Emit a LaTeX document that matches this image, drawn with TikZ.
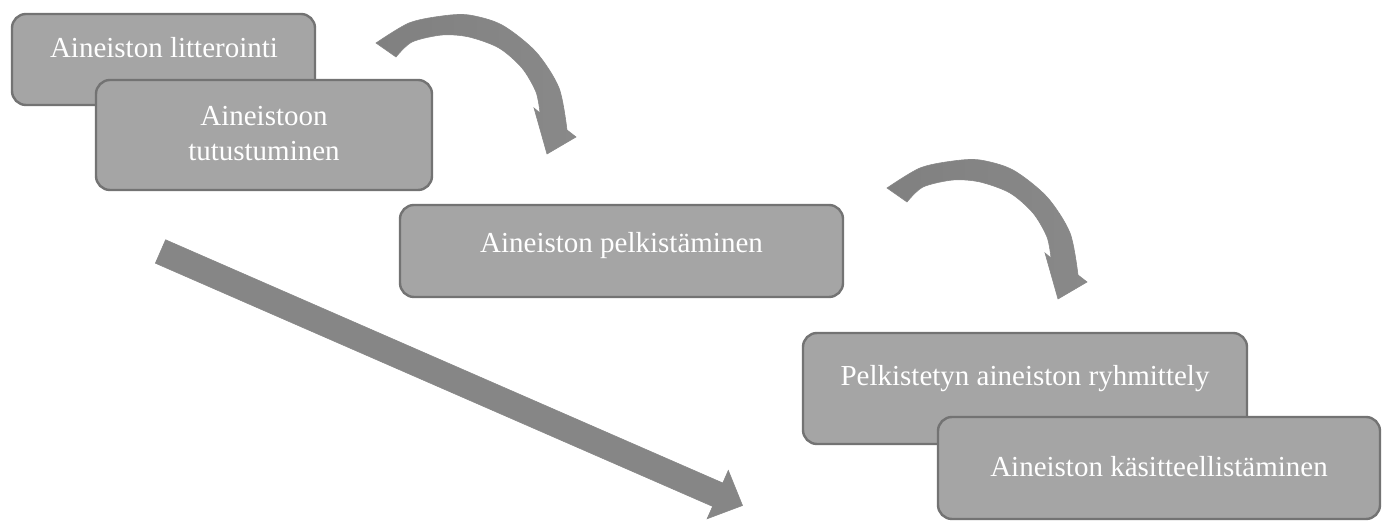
\documentclass[tikz,border=0pt]{standalone}
\usepackage{fontspec}
\setmainfont{Liberation Serif}
\usetikzlibrary{fit}
\definecolor{boxfill}{HTML}{A5A5A5}
\definecolor{boxline}{HTML}{737373}
\definecolor{arrdark}{HTML}{808080}
\definecolor{arrmid}{HTML}{9C9C9C}
\definecolor{arrend}{HTML}{898989}
\definecolor{sdark}{HTML}{868686}
\definecolor{smid}{HTML}{929292}
\definecolor{arrline}{HTML}{888888}
\tikzset{
  box/.style={draw=boxline, fill=boxfill, line width=1.2pt, rounded corners=7pt, inner sep=0pt},
  lbl/.style={text=white, inner sep=0pt, font=\fontsize{14.5pt}{17.5pt}\selectfont},
  curvfill/.style={left color=arrdark, middle color=arrmid, right color=arrend, draw=arrline, line width=0.3pt},
  straightfill/.style={left color=sdark, middle color=smid, right color=sdark, draw=arrline, line width=0.3pt},
  curvedarrow/.pic={
    \path[curvfill] plot[smooth] coordinates {(0,0) (33,-20) (66,-27) (93,-28) (126,-18) (160,9) (183,45) (191,87)}
      -- (200,94) -- (171,111) -- (158,65) -- (164,70)
      -- plot[smooth] coordinates {(164,70) (160,49) (146,25) (123,5) (93,-6) (66,-8) (36,-1) (20,14)} -- cycle;
  }
}
\begin{document}
\begin{tikzpicture}[x=0.5pt,y=-0.5pt]
\useasboundingbox (0,0) rectangle (1387,522);

% boxes
\node[box, fit={(12,14)(315,105)}] (b1) {};
\node[box, fit={(96,80)(432,190)}] (b2) {};
\node[box, fit={(400,205)(843,297)}] (b3) {};
\node[box, fit={(803,333)(1247,444)}] (b4) {};
\node[box, fit={(938,417)(1380,519)}] (b5) {};

% texts
\node[lbl, anchor=base] (t1) at (164,58) {Aineiston litterointi};
\node[lbl, anchor=north, align=center] (t2) at (264,106) {Aineistoon\\tutustuminen};
\node[lbl, anchor=base] (t3) at (621.5,253) {Aineiston pelkistäminen};
\node[lbl, anchor=base] (t4) at (1025,386) {Pelkistetyn aineiston ryhmittely};
\node[lbl, anchor=base] (t5) at (1159,477) {Aineiston käsitteellistäminen};

% curved arrows
\pic at (376,43) {curvedarrow};
\pic at (887,188) {curvedarrow};

% long straight arrow
\path[straightfill] (165.6,239.8) -- (722.8,483.0) -- (728.3,470.4) -- (742.5,505.5)
  -- (707.1,518.8) -- (712.6,506.4) -- (155.4,263.2) -- cycle;
\end{tikzpicture}
\end{document}
